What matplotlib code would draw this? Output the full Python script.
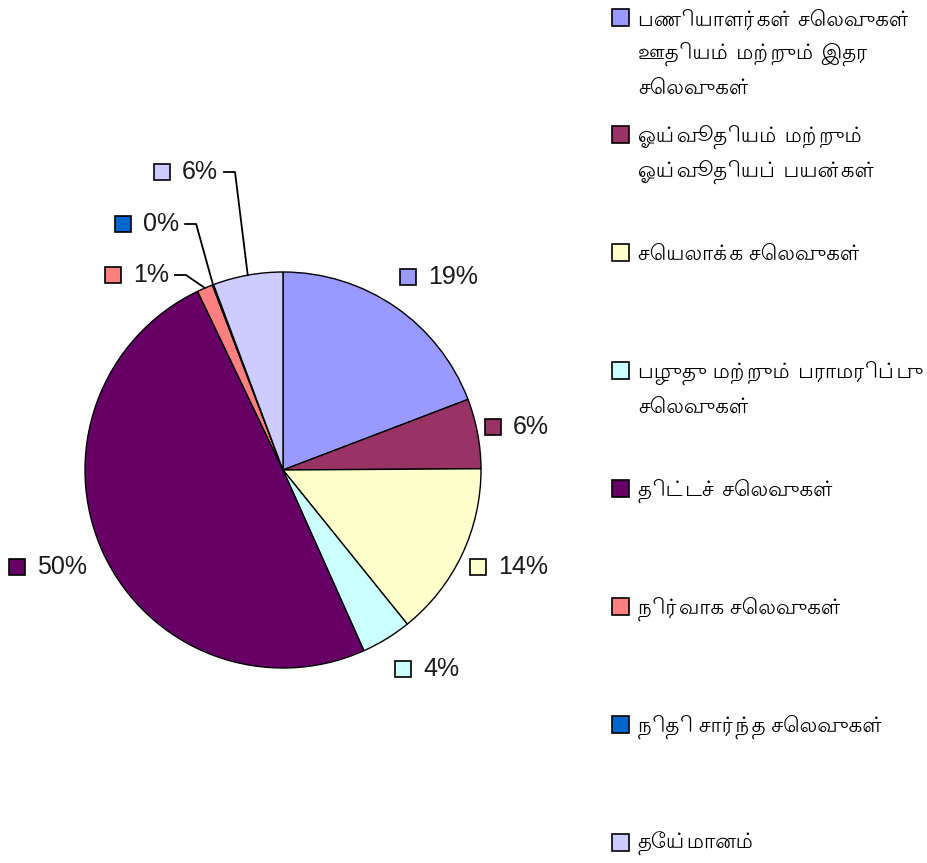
import numpy as np
import matplotlib
matplotlib.use("Agg")
import matplotlib.pyplot as plt
from matplotlib.patches import Rectangle
from matplotlib import font_manager
from matplotlib.ft2font import FT2Font

# data (percent of total expenditure)
categories = [
    "பணியாளர்கள் செலவுகள்\nஊதியம் மற்றும் இதர\nசெலவுகள்",
    "ஓய்வூதியம் மற்றும்\nஓய்வூதியப் பயன்கள்",
    "செயலாக்க செலவுகள்",
    "பழுது மற்றும் பராமரிப்பு\nசெலவுகள்",
    "திட்டச் செலவுகள்",
    "நிர்வாக செலவுகள்",
    "நிதி சார்ந்த செலவுகள்",
    "தேய்மானம்",
]
shares = [19.2, 5.7, 14.3, 4.1, 49.6, 1.3, 0.1, 5.7]
pct_labels = ["19%", "6%", "14%", "4%", "50%", "1%", "0%", "6%"]
colors = ["#9999FF", "#993366", "#FFFFCC", "#CCFFFF", "#660066",
          "#FF8080", "#0066CC", "#CCCCFF"]

# label key positions (pixels, y from top) and which ones get a leader line
label_pos = [(408, 277), (493, 427), (478, 567), (403, 669), (17, 567),
             (113, 275), (123, 224), (162, 172)]
leader = [False, False, False, False, False, True, True, True]

# pick a Tamil font (Lohit first, it is closest to the original's look)
found = {}
for path in font_manager.findSystemFonts():
    try:
        if 0x0B9A in FT2Font(path).get_charmap():
            font_manager.fontManager.addfont(path)
            found[font_manager.FontProperties(fname=path).get_name()] = path
    except Exception:
        pass
tamil_font = None
for name in ["Lohit Tamil", "Noto Sans Tamil", "Anek Tamil"]:
    if name in found:
        tamil_font = name
        break

fams = ["Liberation Sans"]
if tamil_font:
    fams.append(tamil_font)
fams.append("DejaVu Sans")
plt.rcParams["font.family"] = fams

W, H = 928, 863
fig = plt.figure(figsize=(W / 100, H / 100), dpi=100)
ax = fig.add_axes([0, 0, 1, 1])

cx, cy, R = 283, H - 470, 198
wedges, _ = ax.pie(shares, colors=colors, startangle=90, counterclock=False,
                   center=(cx, cy), radius=R,
                   wedgeprops=dict(edgecolor="black", linewidth=1))
ax.set_xlim(0, W)
ax.set_ylim(0, H)
ax.set_aspect("equal")
ax.axis("off")

sq = 16
texts = []
for i, (w, lab) in enumerate(zip(wedges, pct_labels)):
    px, py = label_pos[i]
    py = H - py
    ax.add_patch(Rectangle((px - sq / 2, py - sq / 2), sq, sq,
                           facecolor=colors[i], edgecolor="black", lw=1.2))
    t = ax.text(px + 20, py, lab, fontsize=18, va="center", ha="left",
                color="#1a1a1a")
    texts.append(t)

# legend on the right, one text per line so the line gap is fixed
leg_y0, leg_step, line_gap = 17, 117.9, 34.5
lsq = 17
leg_texts = []
for i, lab in enumerate(categories):
    y = H - (leg_y0 + i * leg_step)
    ax.add_patch(Rectangle((621 - lsq / 2, y - lsq / 2), lsq, lsq,
                           facecolor=colors[i], edgecolor="black", lw=1.2))
    for k, line in enumerate(lab.split("\n")):
        leg_texts.append(ax.text(638, y - 2 - k * line_gap, line, fontsize=17,
                                 va="center", ha="left", color="black"))

fig.canvas.draw()
# shrink legend text if the unshaped Tamil runs come out too wide
widest = max(t.get_window_extent().x1 for t in leg_texts)
if widest > W - 4:
    scale = (W - 4 - 638) / (widest - 638)
    for t in leg_texts:
        t.set_fontsize(17 * scale)

inv = ax.transData.inverted()
for i, w in enumerate(wedges):
    if not leader[i]:
        continue
    bb = texts[i].get_window_extent()
    x_end = inv.transform((bb.x1, 0))[0] + 6
    py = H - label_pos[i][1]
    ang = np.deg2rad((w.theta1 + w.theta2) / 2)
    ex, ey = cx + R * np.cos(ang), cy + R * np.sin(ang)
    ax.plot([x_end, x_end + 11, ex], [py, py, ey], color="black", lw=1.3)

fig.savefig("out.png", dpi=100)
